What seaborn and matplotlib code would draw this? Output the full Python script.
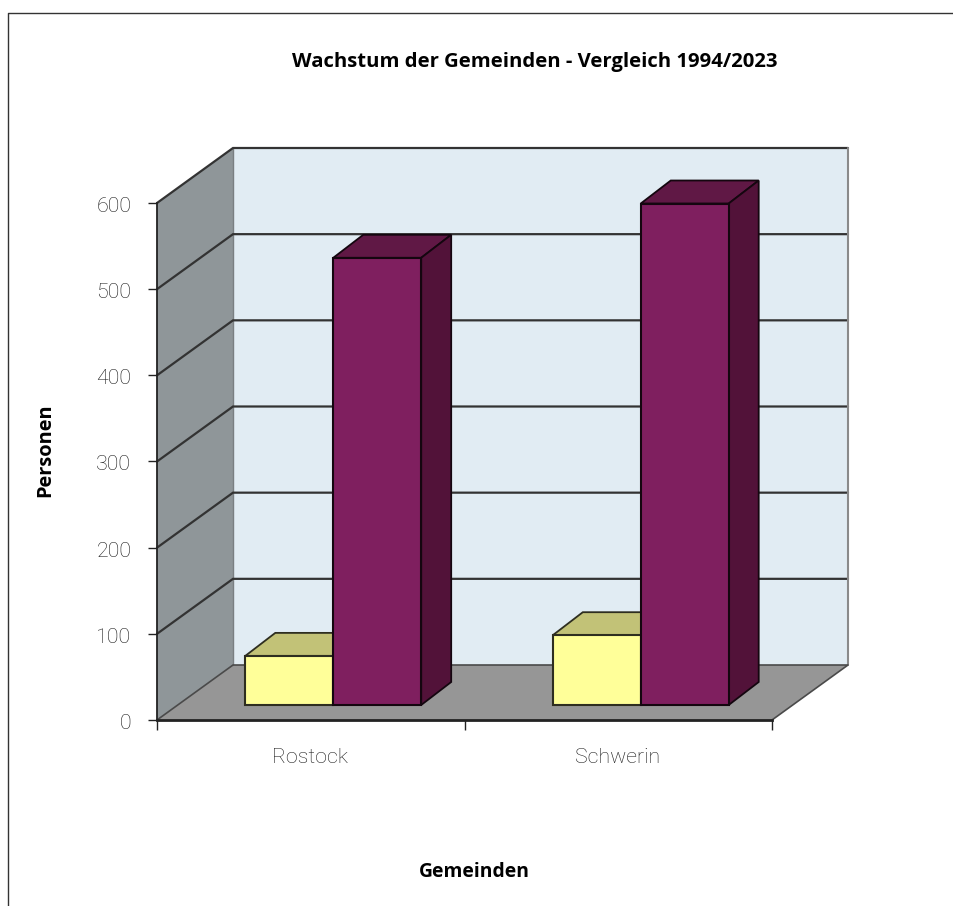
import matplotlib
matplotlib.use("Agg")
import matplotlib.pyplot as plt
from matplotlib.lines import Line2D
from matplotlib.patches import Polygon
from matplotlib.transforms import ScaledTranslation
import pandas as pd
import seaborn as sns

# Data
gemeinden = ["Rostock", "Schwerin"]
jahre = ["1994", "2023"]
werte_1994 = [57, 81]
werte_2023 = [519, 582]
y_ticks = [0, 100, 200, 300, 400, 500, 600]
titel = "Wachstum der Gemeinden - Vergleich 1994/2023"
x_titel = "Gemeinden"
y_titel = "Personen"

W, H = 954, 906
sns.set_theme(style="white")
plt.rcParams["font.family"] = ["Open Sans", "DejaVu Sans"]

fig = plt.figure(figsize=(W / 100, H / 100), dpi=100, facecolor="white")
L, R, T, B = 157, 772, 203, 720
ax = fig.add_axes([L / W, (H - B) / H, (R - L) / W, (B - T) / H])

df = pd.DataFrame({
    "Gemeinde": gemeinden * 2,
    "Jahr": [jahre[0]] * 2 + [jahre[1]] * 2,
    "Personen": werte_1994 + werte_2023,
})
sns.barplot(data=df, x="Gemeinde", y="Personen", hue="Jahr", hue_order=jahre,
            palette=["#FFFF99", "#7F1F5F"], width=0.572, gap=0, dodge=True,
            legend=False, saturation=1, ax=ax)
bars = list(ax.patches)
ax.set_xlim(-0.5, 1.5)
ax.set_ylim(0, 600)

ux = 2 / (R - L)      # category units per pixel
uy = 600 / (B - T)    # persons per pixel
DX, DY = 76 * ux, 55 * uy       # depth of the box
SX, SY = 22.5 * ux, 15 * uy     # bar offset into the box
BX, BY = 30 * ux, 23 * uy       # depth of a bar
x0, x1 = -0.5, 1.5
dark = "#333333"

ax.patch.set_visible(False)
# back wall, left wall, floor
ax.add_patch(Polygon([(x0 + DX, DY), (x1 + DX, DY), (x1 + DX, 600 + DY), (x0 + DX, 600 + DY)],
                     fc="#E1ECF3", ec="none", clip_on=False, zorder=0.5))
ax.add_patch(Polygon([(x0, 0), (x0 + DX, DY), (x0 + DX, 600 + DY), (x0, 600)],
                     fc="#8F9699", ec="none", clip_on=False, zorder=0.6))
ax.add_patch(Polygon([(x0, 0), (x1, 0), (x1 + DX, DY), (x0 + DX, DY)],
                     fc="#969696", ec="none", clip_on=False, zorder=0.7))
# grid
for v in y_ticks:
    if v > 0:
        ax.plot([x0, x0 + DX, x1 + DX], [v, v + DY, v + DY], color=dark, lw=1.6,
                clip_on=False, zorder=0.8, solid_joinstyle="miter")
ax.plot([x1 + DX, x1 + DX], [DY, 600 + DY], color="#8A8A8A", lw=1.5, clip_on=False, zorder=0.8)
ax.plot([x0 + DX, x0 + DX], [DY, 600 + DY], color="#7A7F82", lw=1, clip_on=False, zorder=0.75)
ax.plot([x0, x0 + DX, x1 + DX, x1], [0, DY, DY, 0], color="#4A4A4A", lw=1.2, clip_on=False, zorder=0.8)

# bars with side and top faces
for i, p in enumerate(bars):
    yellow = i < 2
    z = 3 if yellow else 4
    ec = "#2E2E20" if yellow else "#14060F"
    p.set_x(p.get_x() + SX)
    p.set_y(SY)
    p.set_edgecolor(ec)
    p.set_linewidth(1.5)
    p.set_clip_on(False)
    p.set_zorder(z + 0.2)
    xa, xb = p.get_x(), p.get_x() + p.get_width()
    ya, yb = SY, SY + p.get_height()
    ax.add_patch(Polygon([(xa, yb), (xb, yb), (xb + BX, yb + BY), (xa + BX, yb + BY)],
                         fc="#C2C277" if yellow else "#601845", ec=ec, lw=1.3,
                         clip_on=False, zorder=z))
    ax.add_patch(Polygon([(xb, ya), (xb + BX, ya + BY), (xb + BX, yb + BY), (xb, yb)],
                         fc="#A5A565" if yellow else "#521239", ec=ec, lw=1.3,
                         clip_on=False, zorder=z))

# axes
for s in ["top", "right"]:
    ax.spines[s].set_visible(False)
for s in ["left", "bottom"]:
    ax.spines[s].set_color("#222222")
    ax.spines[s].set_zorder(1)
ax.spines["left"].set_linewidth(1.3)
ax.spines["bottom"].set_linewidth(2)

ax.set_yticks(y_ticks)
ax.set_xticks([0, 1])
ax.set_xticks([-0.5, 0.5, 1.5], minor=True)
ax.set_xticklabels(gemeinden)
ax.tick_params(axis="y", which="major", left=True, length=6.5, width=1, color="#222222", pad=12)
ax.tick_params(axis="x", which="major", bottom=False, length=0, pad=20.5)
ax.tick_params(axis="x", which="minor", bottom=True, length=7, width=1, color="#222222")
tick_font = dict(family="Roboto", fontweight="light", fontsize=15.4, color="#1A1A1A")
for t in ax.get_xticklabels() + ax.get_yticklabels():
    t.set(**tick_font)
ax.set_xlabel("")
ax.set_ylabel("")
shift = ScaledTranslation(-1 / 100, 0, fig.dpi_scale_trans)
for t in ax.get_xticklabels():
    t.set_transform(t.get_transform() + shift)
down = ScaledTranslation(0, -1.5 / 100, fig.dpi_scale_trans)
for t in ax.get_yticklabels():
    t.set_transform(t.get_transform() + down)

bold = dict(family=["Open Sans", "DejaVu Sans"], fontweight="bold", color="black")
fig.text(535 / W, 1 - 62 / H, titel, ha="center", va="center", fontsize=14.55, **bold)
fig.text(474.5 / W, 1 - 872 / H, x_titel, ha="center", va="center", fontsize=13.9, **bold)
fig.text(45 / W, 1 - 450 / H, y_titel, ha="center", va="center", rotation=90, fontsize=14.4, **bold)

# outer frame
fig.add_artist(Line2D([8 / W, 8 / W, 1], [0, 1 - 12.5 / H, 1 - 12.5 / H], color="#333333", lw=1))

fig.savefig("out.png", dpi=100, facecolor="white")
